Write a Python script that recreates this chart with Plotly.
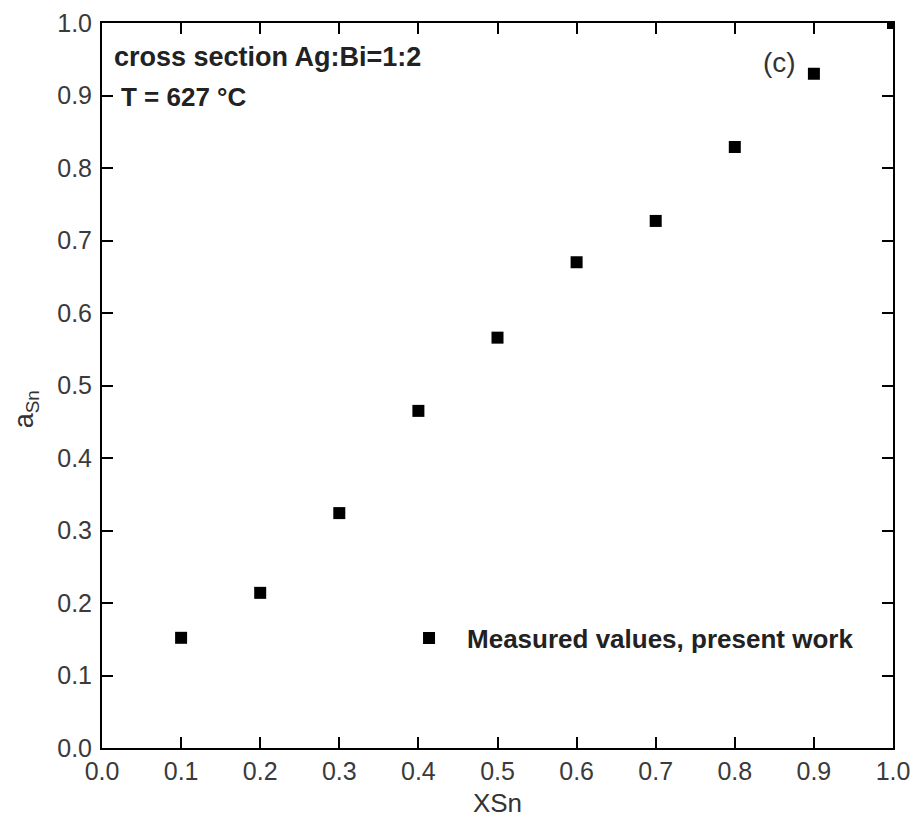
import plotly.graph_objects as go

# Data
x_sn = [0.1, 0.2, 0.3, 0.4, 0.5, 0.6, 0.7, 0.8, 0.9, 1.0]
a_sn = [0.152, 0.214, 0.324, 0.465, 0.566, 0.670, 0.727, 0.829, 0.930, 1.0]
tick_vals = [0.0, 0.1, 0.2, 0.3, 0.4, 0.5, 0.6, 0.7, 0.8, 0.9, 1.0]
tick_text = ["0.0", "0.1", "0.2", "0.3", "0.4", "0.5", "0.6", "0.7", "0.8", "0.9", "1.0"]

FONT = "Liberation Sans, Arial, sans-serif"

fig = go.Figure()
fig.add_trace(go.Scatter(
    x=x_sn, y=a_sn, mode="markers",
    name="<b>Measured values, present work</b>",
    marker=dict(symbol="square", size=12, color="black"),
    cliponaxis=True,
))

axis_common = dict(
    range=[0, 1], tickmode="array", tickvals=tick_vals, ticktext=tick_text,
    showgrid=False, zeroline=False, showline=True, linecolor="black", linewidth=2,
    mirror="ticks", ticks="inside", ticklen=11, tickwidth=1.5, tickcolor="black",
    tickfont=dict(family=FONT, size=25, color="#3a3a3a"),
    automargin=False,
)

fig.update_layout(
    width=914, height=818,
    margin=dict(l=102, r=21, t=23, b=70, autoexpand=False),
    paper_bgcolor="white", plot_bgcolor="white",
    font=dict(family=FONT, color="#222"),
    xaxis=dict(**axis_common, ticklabelstandoff=0,
               title=dict(text="XSn", font=dict(family=FONT, size=26, color="#333"), standoff=18)),
    yaxis=dict(**axis_common, ticklabelstandoff=3),
    showlegend=True,
    legend=dict(x=0.3654, xanchor="left", y=0.1517, yanchor="middle",
                itemwidth=66, bgcolor="rgba(0,0,0,0)",
                font=dict(family=FONT, size=26, color="#222")),
    annotations=[
        dict(text="<b>cross section Ag:Bi=1:2</b>", xref="paper", yref="paper",
             x=0.013, y=0.953, xanchor="left", yanchor="middle", showarrow=False,
             font=dict(family=FONT, size=27, color="#222")),
        dict(text="<b>T = 627 °C</b>", xref="paper", yref="paper",
             x=0.022, y=0.898, xanchor="left", yanchor="middle", showarrow=False,
             font=dict(family=FONT, size=26, color="#222")),
        dict(text="(c)", xref="paper", yref="paper",
             x=0.857, y=0.945, xanchor="center", yanchor="middle", showarrow=False,
             font=dict(family=FONT, size=28, color="#333")),
        dict(text="a<sub>Sn</sub>", xref="paper", yref="paper",
             x=-0.095, y=0.467, xanchor="center", yanchor="middle", showarrow=False,
             textangle=-90, font=dict(family=FONT, size=27, color="#333")),
    ],
)

fig.write_html(
    "out.html",
    config={"displayModeBar": False},
    post_script="document.body.style.margin='0';document.body.style.overflow='hidden';",
)
